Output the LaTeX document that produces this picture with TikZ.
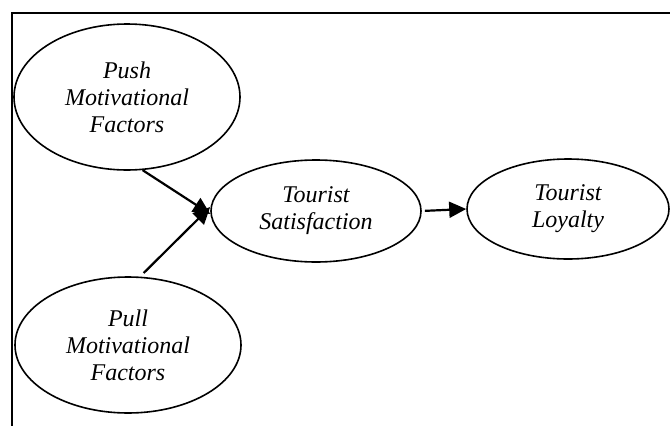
\documentclass[tikz,border=0pt]{standalone}
\usepackage{fontspec}
\setmainfont{Liberation Serif}
\usetikzlibrary{shapes.geometric,arrows.meta}
\begin{document}
\begin{tikzpicture}[x=1pt,y=-1pt,
  oval/.style={draw,ellipse,line width=1.6pt,inner sep=0pt,align=center,
    font=\fontsize{24}{27}\selectfont\itshape},
  link/.style={line width=2.2pt,-{Triangle[length=17pt,width=16pt]}}]
\useasboundingbox (0,0) rectangle (670,426);
\draw[line width=1.8pt] (12,426) -- (12,13) -- (670,13);
\node[oval,minimum width=226pt,minimum height=146pt] (push) at (127,97) {Push\\Motivational\\Factors};
\node[oval,minimum width=226pt,minimum height=136pt] (pull) at (128,345) {Pull\\Motivational\\Factors};
\node[oval,minimum width=210pt,minimum height=102pt] (sat) at (316,211) {Tourist\\Satisfaction};
\node[oval,minimum width=202pt,minimum height=100pt] (loy) at (568,209) {Tourist\\Loyalty};
\draw[link] (push.-78) -- ([yshift=-3pt]sat.west);
\draw[link,shorten <=5pt] (pull.80) -- ([yshift=4pt]sat.west);
\draw[link,shorten <=3pt] (sat.east) -- (loy.west);
\end{tikzpicture}
\end{document}
